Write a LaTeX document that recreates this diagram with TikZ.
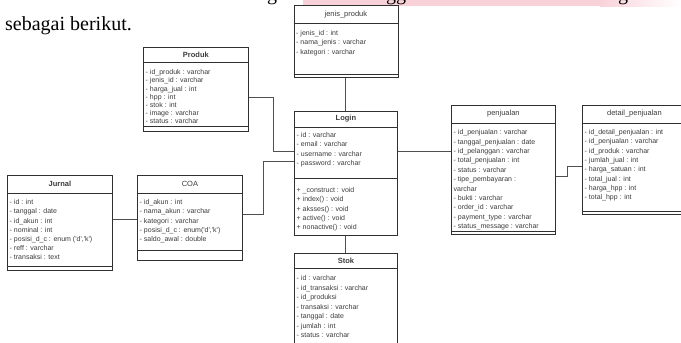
\documentclass[tikz,border=0pt]{standalone}
\usepackage{fontspec}
\setmainfont{Liberation Serif}
\newfontfamily\umlfont{Liberation Sans}
\usepackage{xcolor}
\usetikzlibrary{positioning}

\definecolor{umlline}{HTML}{303030}
\definecolor{umltext}{HTML}{3C3C3C}
\definecolor{connline}{HTML}{505050}
\definecolor{bandpink}{HTML}{F9D2D9}

\tikzset{
  classbox/.style n args={2}{draw=umlline,line width=.8pt,anchor=north west,inner sep=0pt,
    minimum width=#1,minimum height=#2},
  sepline/.style={draw=umlline,line width=.7pt},
  classtitle/.style={font=\umlfont\fontsize{7.5}{9}\selectfont,text=umltext,inner sep=0pt},
  boldtitle/.style={classtitle,font=\umlfont\bfseries\fontsize{7.5}{9}\selectfont},
  attrtext/.style={font=\umlfont\fontsize{7}{#1}\selectfont,text=umltext,align=left,
    anchor=north west,inner sep=0pt},
  attrtext/.default=9.3,
  conn/.style={draw=connline,line width=.9pt}
}

\begin{document}
\begin{tikzpicture}[x=1pt,y=-1pt]
  \useasboundingbox[fill=white] (0,0) rectangle (681,343);
  \clip (0,0) rectangle (681,343);
  % cut-off line above and its highlight
  \fill[bandpink] (303,0) rectangle (600,6);
  \shade[left color=bandpink,right color=white] (600,0) rectangle (681,6);
  \begin{scope}
    \clip (0,0) rectangle (681,8);
    \node[anchor=base west,inner sep=0pt] (cut1) at (267,0.5) {\fontsize{20}{24}\selectfont g};
    \node[anchor=base west,inner sep=0pt] (cut2) at (386,0.5) {\fontsize{20}{24}\selectfont gg};
    \node[anchor=base west,inner sep=0pt] (cut3) at (618,0.5) {\fontsize{20}{24}\selectfont g};
  \end{scope}
  \node[anchor=base west,inner sep=0pt] (intro) at (5,30) {\fontsize{20}{24}\selectfont sebagai berikut.};

  % jenis_produk
  \node[classbox={104pt}{72pt}] (jenis) at (293.5,5) {};
  \draw[sepline] (jenis.north west) ++(0,18) -- ++(104,0);
  \draw[sepline] (jenis.north west) ++(0,69) -- ++(104,0);
  \path (jenis.north) ++(0,9.5) node[classtitle] (jenis title) {jenis\_produk};
  \path (jenis.north west) ++(2.5,25.4) node[attrtext] (jenis attr)
    {- jenis\_id : int\\- nama\_jenis : varchar\\- kategori : varchar};

  % Produk
  \node[classbox={105pt}{84pt}] (produk) at (143,47) {};
  \draw[sepline] (produk.north west) ++(0,15) -- ++(105,0);
  \draw[sepline] (produk.north west) ++(0,79) -- ++(105,0);
  \path (produk.north) ++(0,7.5) node[boldtitle] (produk title) {Produk};
  \path (produk.north west) ++(2.5,22.4) node[attrtext=8.2] (produk attr)
    {- id\_produk : varchar\\- jenis\_id : varchar\\- harga\_jual : int\\- hpp : int\\- stok : int\\- image : varchar\\- status : varchar};

  % Login
  \node[classbox={103pt}{124pt}] (login) at (294,111) {};
  \draw[sepline] (login.north west) ++(0,16) -- ++(103,0);
  \draw[sepline] (login.north west) ++(0,67) -- ++(103,0);
  \path (login.north) ++(0,8) node[boldtitle] (login title) {Login};
  \path (login.north west) ++(2.5,21.4) node[attrtext=9.3] (login attr)
    {- id : varchar\\- email : varchar\\- username : varchar\\- password : varchar};
  \path (login.north west) ++(2.5,76.4) node[attrtext=9.3] (login ops)
    {+ \_construct : void\\+ index() : void\\+ aksses() : void\\+ active() : void\\+ nonactive() : void};

  % Stok
  \node[classbox={103pt}{110pt}] (stok) at (294,253) {};
  \draw[sepline] (stok.north west) ++(0,15) -- ++(103,0);
  \path (stok.north) ++(0,7.5) node[boldtitle] (stok title) {Stok};
  \path (stok.north west) ++(2.5,22.4) node[attrtext=9.5] (stok attr)
    {- id : varchar\\- id\_transaksi : varchar\\- id\_produksi\\- transaksi : varchar\\- tanggal : date\\- jumlah : int\\- status : varchar};

  % penjualan
  \node[classbox={104pt}{129pt}] (penjualan) at (451,105) {};
  \draw[sepline] (penjualan.north west) ++(0,18) -- ++(104,0);
  \draw[sepline] (penjualan.north west) ++(0,126) -- ++(104,0);
  \path (penjualan.north) ++(0,9) node[classtitle] (penjualan title) {penjualan};
  \path (penjualan.north west) ++(2.5,24.4) node[attrtext=9.4] (penjualan attr)
    {- id\_penjualan : varchar\\- tanggal\_penjualan : date\\- id\_pelanggan : varchar\\- total\_penjualan : int\\- status : varchar\\- tipe\_pembayaran :\\varchar\\- bukti : varchar\\- order\_id : varchar\\- payment\_type : varchar\\- status\_message : varchar};

  % detail_penjualan
  \node[classbox={106pt}{109pt}] (detail) at (582,105) {};
  \draw[sepline] (detail.north west) ++(0,18) -- ++(106,0);
  \draw[sepline] (detail.north west) ++(0,106) -- ++(106,0);
  \path (detail.north) ++(-1,9) node[classtitle] (detail title) {detail\_penjualan};
  \path (detail.north west) ++(2.5,24.4) node[attrtext=9.3] (detail attr)
    {- id\_detail\_penjualan : int\\- id\_penjualan : varchar\\- id\_produk : varchar\\- jumlah\_jual : int\\- harga\_satuan : int\\- total\_jual : int\\- harga\_hpp : int\\- total\_hpp : int};

  % Jurnal
  \node[classbox={105pt}{95pt}] (jurnal) at (7,175) {};
  \draw[sepline] (jurnal.north west) ++(0,18) -- ++(105,0);
  \draw[sepline] (jurnal.north west) ++(0,91) -- ++(105,0);
  \path (jurnal.north) ++(0,9) node[boldtitle] (jurnal title) {Jurnal};
  \path (jurnal.north west) ++(2.5,24.4) node[attrtext=9.2] (jurnal attr)
    {- id : int\\- tanggal : date\\- id\_akun : int\\- nominal : int\\- posisi\_d\_c : enum ('d','k')\\- reff : varchar\\- transaksi : text};

  % COA
  \node[classbox={105pt}{85pt}] (coa) at (137,175) {};
  \draw[sepline] (coa.north west) ++(0,18) -- ++(105,0);
  \draw[sepline] (coa.north west) ++(0,75) -- ++(105,0);
  \path (coa.north) ++(0,9) node[classtitle] (coa title) {COA};
  \path (coa.north west) ++(2.5,24.4) node[attrtext=9.2] (coa attr)
    {- id\_akun : int\\- nama\_akun : varchar\\- kategori : varchar\\- posisi\_d\_c : enum('d','k')\\- saldo\_awal : double};

  % connectors
  \draw[conn] (jenis.south) -- (login.north);
  \draw[conn] (login.south) -- (stok.north);
  \draw[conn] (produk.east |- 0,97) -| (273,151) -- (login.west |- 0,151);
  \draw[conn] (coa.east |- 0,214) -| (263,161) -- (login.west |- 0,161);
  \draw[conn] (jurnal.east |- 0,219) -- (coa.west |- 0,219);
  \draw[conn] (login.east |- 0,151) -- (penjualan.west |- 0,151);
  \draw[conn] (penjualan.east |- 0,176) -| (567,166) -- (detail.west |- 0,166);
\end{tikzpicture}
\end{document}
